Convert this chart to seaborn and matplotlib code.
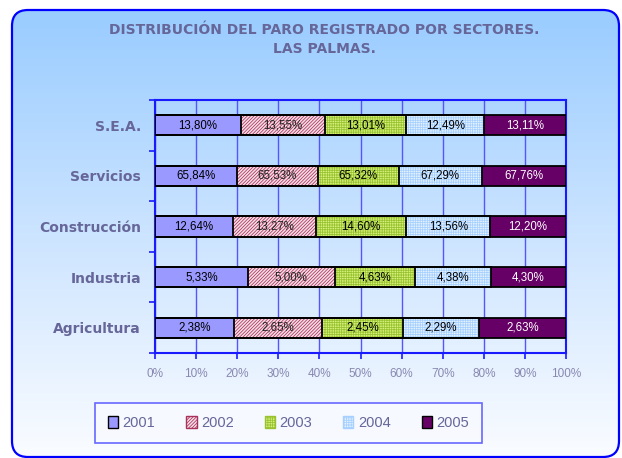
import numpy as np
import pandas as pd

import matplotlib
matplotlib.use("Agg")
import matplotlib.pyplot as plt
import seaborn as sns
from matplotlib.patches import FancyBboxPatch, Patch
from matplotlib.colors import LinearSegmentedColormap

# data (share of registered unemployment per sector, Las Palmas)
sectors = ["S.E.A.", "Servicios", "Construcción", "Industria", "Agricultura"]
years = ["2001", "2002", "2003", "2004", "2005"]
v2001 = [13.80, 65.84, 12.64, 5.33, 2.38]
v2002 = [13.55, 65.53, 13.27, 5.00, 2.65]
v2003 = [13.01, 65.32, 14.60, 4.63, 2.45]
v2004 = [12.49, 67.29, 13.56, 4.38, 2.29]
v2005 = [13.11, 67.76, 12.20, 4.30, 2.63]

face = ["#9999FF", "#F6DCE6", "#D4F07A", "#E4F2FF", "#660066"]
hatchc = ["#9999FF", "#A8335A", "#99C230", "#A6D0FF", "#660066"]
hatches = ["", "//////////", "+++++++", "+++++++", ""]
txtc = ["black", "#222222", "black", "black", "white"]

title_col = "#666699"
blue = "#1a1aff"

df = pd.DataFrame({"sector": sectors, "2001": v2001, "2002": v2002,
                   "2003": v2003, "2004": v2004, "2005": v2005})
tot = df[years].sum(axis=1)
share = df[years].div(tot, axis=0) * 100
cum = share.cumsum(axis=1)
for y in years:
    df["cum_" + y] = cum[y]

plt.rcParams["font.family"] = ["Liberation Sans", "DejaVu Sans"]
plt.rcParams["hatch.linewidth"] = 0.55

fig = plt.figure(figsize=(6.22, 4.58), dpi=100)

# rounded gradient background
bg = fig.add_axes([0, 0, 1, 1])
bg.set_xlim(0, 622)
bg.set_ylim(458, 0)
bg.axis("off")
box = FancyBboxPatch((12, 10), 607, 447, boxstyle="round,pad=0,rounding_size=16",
                     facecolor="none", edgecolor="#0000FF", linewidth=1.6, zorder=3)
bg.add_patch(box)
cmap = LinearSegmentedColormap.from_list("bgc", ["#99CCFF", "#CCE4FF", "#FAFCFF"])
grad = np.linspace(0, 1, 256).reshape(-1, 1)
im = bg.imshow(grad, cmap=cmap, aspect="auto", extent=(12, 619, 457, 10), zorder=1)
im.set_clip_path(box)

ax = fig.add_axes([155 / 622, 1 - 353 / 458, 411 / 622, 253 / 458])
ax.set_facecolor("none")

# stacked bars: draw cumulative widths from the longest down
for i in range(len(years) - 1, -1, -1):
    y = years[i]
    sns.barplot(data=df, x="cum_" + y, y="sector", order=sectors, orient="h",
                color=face[i], saturation=1, width=0.4, ax=ax,
                hatch=hatches[i], edgecolor=hatchc[i], linewidth=0, zorder=3)
for i in range(len(years) - 1, -1, -1):
    y = years[i]
    sns.barplot(data=df, x="cum_" + y, y="sector", order=sectors, orient="h",
                color="black", fill=False, width=0.4, ax=ax, linewidth=1.3, zorder=4)

# value labels
for i, y in enumerate(years):
    for j in range(len(sectors)):
        mid = cum.iloc[j, i] - share.iloc[j, i] / 2
        lab = f"{df[y].iloc[j]:.2f}%".replace(".", ",")
        ax.text(mid, j, lab, ha="center", va="center", fontsize=8.3,
                color=txtc[i], zorder=5)

ax.set_xlim(0, 100)
ax.set_ylim(4.5, -0.5)
ax.set_xticks(np.arange(0, 101, 10))
ax.set_xticklabels([f"{t}%" for t in range(0, 101, 10)], fontsize=8.5, color="#8888B0")
ax.set_xlabel("")
ax.set_ylabel("")
ax.set_yticks(range(len(sectors)))
ax.set_yticklabels(sectors, fontsize=10, fontweight="bold", color=title_col,
                   family="DejaVu Sans")
ax.set_yticks(np.arange(-0.5, 5, 1), minor=True)
ax.tick_params(axis="y", which="major", length=0, pad=10)
ax.tick_params(axis="y", which="minor", length=4, color=blue, width=1.2, direction="out")
ax.tick_params(axis="x", length=4, color=blue, width=1.2, direction="out", pad=7)
ax.grid(axis="x", color="#5555FF", linewidth=1, zorder=0)
ax.set_axisbelow(True)
for s in ax.spines.values():
    s.set_color(blue)
    s.set_linewidth(1.5)

fig.text(324 / 622, 1 - 30 / 458, "DISTRIBUCIÓN DEL PARO REGISTRADO POR SECTORES.",
         ha="center", va="center", fontsize=10, fontweight="bold", color=title_col,
         family="DejaVu Sans")
fig.text(324 / 622, 1 - 49 / 458, "LAS PALMAS.",
         ha="center", va="center", fontsize=10, fontweight="bold", color=title_col,
         family="DejaVu Sans")

handles = [Patch(facecolor=face[i], edgecolor=hatchc[i] if hatches[i] else "black",
                 hatch=hatches[i], linewidth=1) for i in range(len(years))]
leg = fig.legend(handles, years, loc="center", ncol=5, mode="expand",
                 bbox_to_anchor=(95 / 622, 1 - 443 / 458, 387 / 622, 40 / 458),
                 frameon=True, fancybox=False, borderpad=0.9, handlelength=0.7,
                 handleheight=0.8, handletextpad=0.3, fontsize=10.5, borderaxespad=0)
leg.get_frame().set_edgecolor("#4444FF")
leg.get_frame().set_facecolor("#F8FAFF")
leg.get_frame().set_linewidth(1.2)
for t in leg.get_texts():
    t.set_color(title_col)

fig.savefig("out.png", dpi=100)
